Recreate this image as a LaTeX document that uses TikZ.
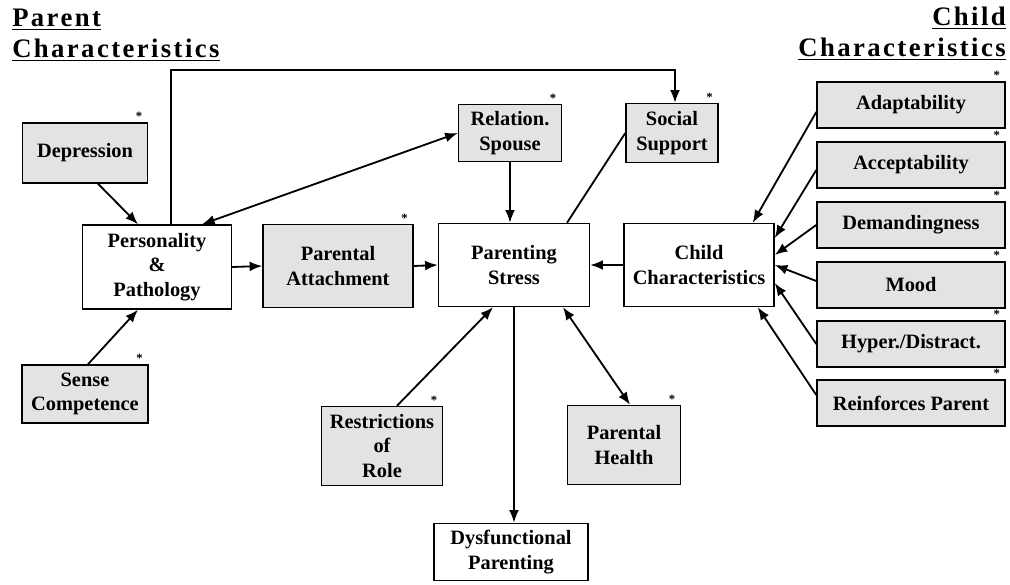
\documentclass[tikz,border=0pt]{standalone}
\usepackage{fontspec}
\setmainfont{Liberation Serif}
\newfontfamily\headfont[LetterSpace=9]{Liberation Serif}
\usetikzlibrary{arrows.meta}
\begin{document}
\begin{tikzpicture}[x=0.025cm,y=-0.025cm]
    \tikzstyle{box}=[draw,line width=1pt,align=center,inner sep=1pt,
        font=\fontsize{14.5}{17.5}\selectfont\bfseries]
    \tikzstyle{shaded}=[box,fill=gray!22,
        label={[anchor=south east,inner sep=1pt,xshift=-3pt,font=\small\bfseries]north east:*}]
    \tikzstyle{head}=[inner sep=0pt,font=\fontsize{19}{22}\selectfont\bfseries\headfont]
    \tikzstyle{link}=[line width=1.3pt]
    \tikzstyle{arr}=[link,-{Latex[length=9pt,width=7pt]}]
    \tikzstyle{both}=[link,{Latex[length=9pt,width=7pt]}-{Latex[length=9pt,width=7pt]}]
    \useasboundingbox (0,0) rectangle (1010,584);
    \draw node[head,anchor=north west,align=left](parhead)at(12,9){\underline{Parent}\\\underline{Characteristics}}
          node[head,anchor=north east,align=right](chhead)at(1006,7){\underline{Child}\\\underline{Characteristics}};
    \draw node[shaded,minimum width=3.125cm,minimum height=1.5cm](dep)at(85,153){Depression}
          node[box,minimum width=3.725cm,minimum height=2.1cm](pers)at(157,267){Personality\\\&\\Pathology}
          node[shaded,minimum width=3.15cm,minimum height=1.45cm](sense)at(85,394){Sense\\Competence}
          node[shaded,minimum width=3.75cm,minimum height=2.075cm](att)at(338,266){Parental\\Attachment}
          node[box,minimum width=3.775cm,minimum height=2.075cm](stress)at(514,265){Parenting\\Stress}
          node[shaded,minimum width=2.575cm,minimum height=1.425cm](spouse)at(510,133){Relation.\\Spouse}
          node[shaded,minimum width=2.3cm,minimum height=1.475cm](social)at(672,133){Social\\Support}
          node[box,minimum width=3.75cm,minimum height=2.075cm](child)at(699,265){Child\\Characteristics}
          node[shaded,minimum width=3.025cm,minimum height=1.975cm](restr)at(382,446){Restrictions\\of\\Role}
          node[shaded,minimum width=2.825cm,minimum height=1.975cm](health)at(624,445){Parental\\Health}
          node[box,minimum width=3.85cm,minimum height=1.425cm](dysf)at(511,552){Dysfunctional\\Parenting};
    \draw node[shaded,minimum width=4.7cm,minimum height=1.15cm](adapt)at(911,105){Adaptability}
          node[shaded,minimum width=4.7cm,minimum height=1.15cm](accept)at(911,165){Acceptability}
          node[shaded,minimum width=4.7cm,minimum height=1.15cm](demand)at(911,225){Demandingness}
          node[shaded,minimum width=4.7cm,minimum height=1.15cm](mood)at(911,285){Mood}
          node[shaded,minimum width=4.7cm,minimum height=1.15cm](hyper)at(911,344){Hyper./Distract.}
          node[shaded,minimum width=4.7cm,minimum height=1.15cm](reinf)at(911,403){Reinforces Parent};
    \coordinate (loop) at (400,70);
    \draw[arr]([xshift=0.325cm]dep.south)--([xshift=-0.475cm]pers.north);
    \draw[arr]([xshift=0.075cm]sense.north)--([xshift=-0.475cm]pers.south);
    \draw[both]([xshift=1.125cm]pers.north)--(spouse.west);
    \draw[arr]([xshift=0.35cm]pers.north)|-(loop)-|([xshift=0.075cm]social.north);
    \draw[arr](pers.east)--(att.west);
    \draw[arr](att.east)--(stress.west);
    \draw[arr](spouse.south)--(spouse.south|-stress.north);
    \draw[link]([xshift=1.325cm]stress.north)--(social.west);
    \draw[arr](child.west)--(stress.east);
    \draw[arr]([xshift=0.375cm]restr.north)--([xshift=-0.525cm]stress.south);
    \draw[arr](stress.south)--(stress.south|-dysf.north);
    \draw[both]([xshift=1.225cm]stress.south)--([xshift=0.15cm]health.north);
    \draw[arr]([yshift=-0.175cm]adapt.west)--([xshift=-0.55cm]child.north east);
    \draw[arr]([yshift=-0.125cm]accept.west)--([yshift=0.675cm]child.east);
    \draw[arr](demand.west)--([yshift=0.25cm]child.east);
    \draw[arr]([yshift=0.1cm]mood.west)--(child.east);
    \draw[arr](hyper.west)--([yshift=-0.45cm]child.east);
    \draw[arr]([yshift=0.2cm]reinf.west)--([xshift=-0.425cm]child.south east);
\end{tikzpicture}
\end{document}
